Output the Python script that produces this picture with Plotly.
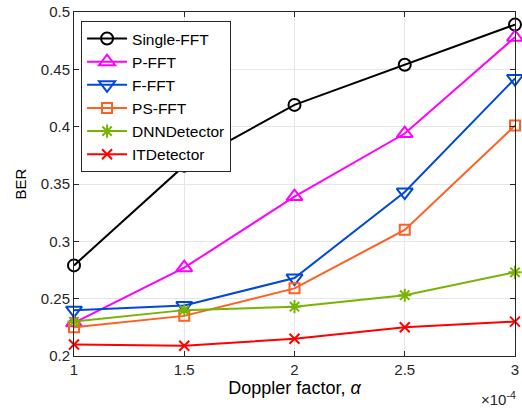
import plotly.graph_objects as go

doppler = [1, 1.5, 2, 2.5, 3]
series_names = ["Single-FFT", "P-FFT", "F-FFT", "PS-FFT", "DNNDetector", "ITDetector"]
single_fft = [0.279, 0.366, 0.419, 0.454, 0.489]
p_fft = [0.229, 0.277, 0.339, 0.394, 0.478]
f_fft = [0.240, 0.244, 0.268, 0.343, 0.442]
ps_fft = [0.225, 0.235, 0.259, 0.310, 0.401]
dnn = [0.230, 0.240, 0.243, 0.253, 0.273]
it_det = [0.210, 0.209, 0.215, 0.225, 0.230]
x_ticks = [1, 1.5, 2, 2.5, 3]
x_tick_text = ["1", "1.5", "2", "2.5", "3"]
y_ticks = [0.2, 0.25, 0.3, 0.35, 0.4, 0.45, 0.5]
y_tick_text = ["0.2", "0.25", "0.3", "0.35", "0.4", "0.45", "0.5"]

styles = [
    ("#000000", "circle-open", 12),
    ("#FF00FF", "triangle-up-open", 14),
    ("#0047DB", "triangle-down-open", 14),
    ("#FF5F1F", "square-open", 10),
    ("#77B300", "asterisk-open", 11),
    ("#FF0000", "x-thin-open", 10),
]
values = [single_fft, p_fft, f_fft, ps_fft, dnn, it_det]

fig = go.Figure()
for name, vals, (color, sym, size) in zip(series_names, values, styles):
    fig.add_trace(go.Scatter(
        x=doppler, y=vals, name=name, mode="lines+markers",
        line=dict(color=color, width=2),
        marker=dict(symbol=sym, size=size, color=color, line=dict(color=color, width=2)),
        cliponaxis=False,
    ))

axis_common = dict(
    showline=True, linecolor="#262626", linewidth=1, mirror="ticks",
    ticks="inside", ticklen=5, tickcolor="#262626",
    showgrid=True, gridcolor="#E6E6E6", gridwidth=1, zeroline=False,
    tickfont=dict(family="Liberation Sans, Arial", size=15, color="#262626"),
    ticklabeloverflow="allow",
)

fig.update_layout(
    width=522, height=410,
    margin=dict(l=74, r=3, t=11, b=54),
    paper_bgcolor="white", plot_bgcolor="white",
    font=dict(family="Liberation Sans, Arial", size=15, color="#262626"),
    xaxis=dict(range=[1, 3], tickvals=x_ticks, ticktext=x_tick_text,
               title=dict(text="Doppler factor, <i>α</i>", standoff=1,
                          font=dict(size=18, color="#000000")),
               **axis_common),
    yaxis=dict(range=[0.2, 0.5], tickvals=y_ticks, ticktext=y_tick_text,
               title=dict(text="BER", standoff=10, font=dict(size=15, color="#000000")),
               **axis_common),
    legend=dict(x=0.016, y=0.974, xanchor="left", yanchor="top",
                bgcolor="white", bordercolor="#262626", borderwidth=1,
                font=dict(size=15.5, color="#000000"), tracegroupgap=0,
                itemwidth=40),
    showlegend=True,
)

fig.add_annotation(x=1, y=0, xref="paper", yref="paper", xanchor="right", yanchor="top",
                   yshift=-31, xshift=3, text="×10<sup>-4</sup>", showarrow=False,
                   font=dict(size=15, color="#262626"))

fig.write_html("out.html")
